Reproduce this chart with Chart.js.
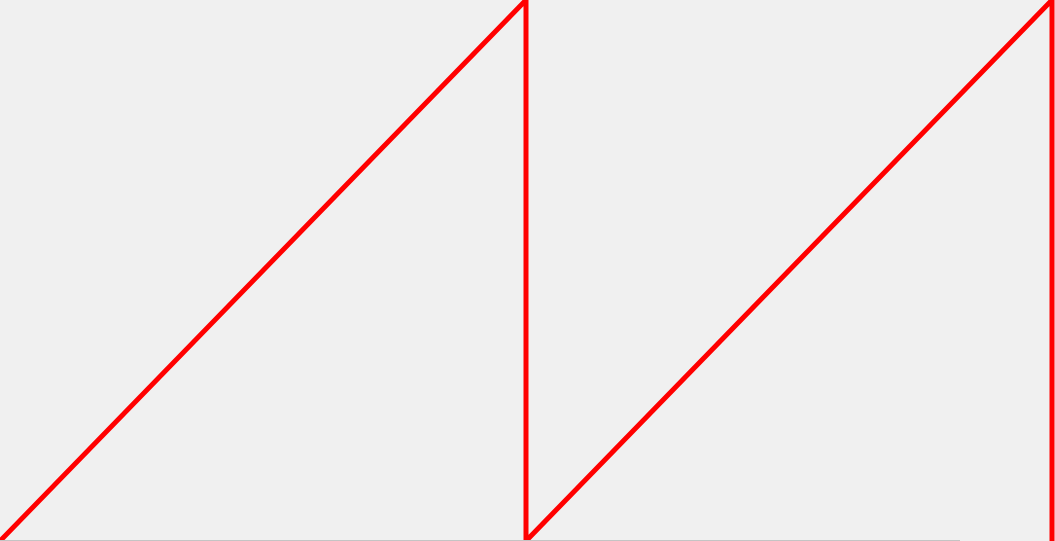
<!DOCTYPE html>
<html>
<head>
<meta charset="utf-8">
<script src="https://cdn.jsdelivr.net/npm/chart.js@4"></script>
<style>
  html, body { margin: 0; padding: 0; background: #f0f0f0; overflow: hidden; }
  #wrap { position: relative; width: 1055px; height: 541px; }
  #bar { position: absolute; left: 0; bottom: 0; width: 960px; height: 1px; background: #c4c4c4; }
</style>
</head>
<body>
<div id="wrap">
  <canvas id="saw"></canvas>
  <div id="bar"></div>
</div>
<script>
// sawtooth wave, two periods
const xs = [0, 1, 1, 2, 2];
const ys = [0, 1, 0, 1, 0];

const ctx = document.getElementById('saw').getContext('2d');

const sawChart = new Chart(ctx, {
    type: 'line',
    data: {
        datasets: [{
            data: xs.map((x, i) => ({ x: x, y: ys[i] })),
            borderColor: '#ff0000',
            borderWidth: 5,
            pointRadius: 0,
            fill: false,
            tension: 0,
            clip: false
        }]
    },
    options: {
        responsive: true,
        maintainAspectRatio: false,
        animation: false,
        layout: { padding: 0 },
        plugins: {
            legend: { display: false },
            tooltip: { enabled: false }
        },
        scales: {
            x: { type: 'linear', display: false, min: 0, max: 2 * 1055 / 1052 },
            y: { display: false, min: 0, max: 1 }
        }
    }
});
</script>
</body>
</html>
